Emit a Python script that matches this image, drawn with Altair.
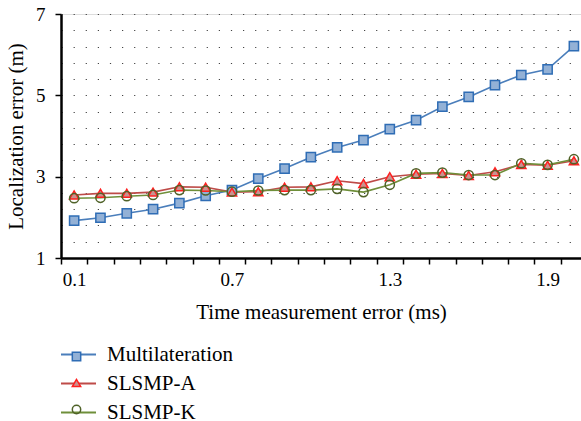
import altair as alt
import pandas as pd

x_values = [0.1, 0.2, 0.3, 0.4, 0.5, 0.6, 0.7, 0.8, 0.9, 1.0,
            1.1, 1.2, 1.3, 1.4, 1.5, 1.6, 1.7, 1.8, 1.9, 2.0]
multilateration = [1.92, 1.99, 2.10, 2.20, 2.35, 2.53, 2.67, 2.95, 3.20, 3.48,
                   3.72, 3.90, 4.17, 4.39, 4.72, 4.96, 5.25, 5.50, 5.64, 6.21]
slsmp_a = [2.55, 2.59, 2.59, 2.62, 2.75, 2.74, 2.62, 2.63, 2.74, 2.75,
           2.90, 2.83, 3.00, 3.06, 3.08, 3.03, 3.12, 3.30, 3.28, 3.39]
slsmp_k = [2.47, 2.48, 2.52, 2.55, 2.67, 2.66, 2.63, 2.66, 2.67, 2.67,
           2.70, 2.62, 2.80, 3.08, 3.10, 3.04, 3.04, 3.33, 3.29, 3.43]
series_names = ["Multilateration", "SLSMP-A", "SLSMP-K"]
x_tick_labels = [0.1, 0.7, 1.3, 1.9]
y_tick_labels = [1, 3, 5, 7]

rows = []
for name, vals in zip(series_names, [multilateration, slsmp_a, slsmp_k]):
    for xv, yv in zip(x_values, vals):
        rows.append({"x": xv, "y": yv, "series": name, "series2": name})
df = pd.DataFrame(rows)

FONT = "Liberation Serif"
x_scale = alt.Scale(domain=[0.05, 2.027], nice=False, zero=False)
y_scale = alt.Scale(domain=[1, 7], nice=False, zero=False)
x_boundaries = [round(0.05 + 0.1 * k, 2) for k in range(20)]
y_grid = [round(1.4 + 0.4 * k, 2) for k in range(15)]

base = alt.Chart(df)

pt_legend = dict(orient="none", legendX=5, legendY=332, title=None,
                 symbolSize=70, labelFont=FONT, labelFontSize=21,
                 labelColor="white", labelOpacity=0, labelOffset=10,
                 rowPadding=4.5, padding=0, symbolStrokeWidth=1.5)

lines = base.mark_line(strokeWidth=1.6).encode(
    x=alt.X("x:Q", scale=x_scale,
            axis=alt.Axis(orient="bottom", values=x_boundaries, labels=False, tickSize=6,
                          tickWidth=1.5, tickColor="black", domainColor="black",
                          domainWidth=2.5, grid=False, title=None)),
    y=alt.Y("y:Q", scale=y_scale,
            axis=alt.Axis(orient="left", values=y_tick_labels, tickSize=6, tickWidth=1.5,
                          tickColor="black", domainColor="black", domainWidth=2.5,
                          grid=False, labelFont=FONT, labelFontSize=19, labelColor="black",
                          labelPadding=10, title="Localization error (m)",
                          titleFont=FONT, titleFontSize=21, titleFontWeight="normal",
                          titleColor="black", titlePadding=9)),
    color=alt.Color("series:N",
                    scale=alt.Scale(range=["#4a7ebb", "#be4b48", "#6f8f3a"]),
                    legend=alt.Legend(orient="none", legendX=-1, legendY=322, title=None,
                                      symbolType="stroke", symbolSize=1225,
                                      symbolStrokeWidth=2, labelFont=FONT,
                                      labelFontSize=21, labelColor="black",
                                      labelOffset=10, rowPadding=-1.5, padding=0)),
    detail="series:N",
)

points = base.mark_point(filled=False, strokeWidth=1.5, opacity=1).encode(
    x=alt.X("x:Q", scale=x_scale,
            axis=alt.Axis(orient="bottom", values=x_tick_labels, format=".1f", ticks=False,
                          tickSize=0, domain=False, grid=False, labelFont=FONT,
                          labelFontSize=19, labelColor="black", labelPadding=12,
                          title="Time measurement error (ms)", titleFont=FONT,
                          titleFontSize=21, titleFontWeight="normal", titleColor="black",
                          titlePadding=12)),
    y=alt.Y("y:Q", scale=y_scale,
            axis=alt.Axis(orient="left", values=y_grid, labels=False, ticks=False,
                          domain=False, grid=True, gridColor="#444", gridWidth=1.2,
                          gridDash=[1.2, 10.9], title=None)),
    shape=alt.Shape("series2:N",
                    scale=alt.Scale(range=["square", "triangle-up", "circle"]),
                    legend=alt.Legend(**pt_legend)),
    fill=alt.Fill("series2:N",
                  scale=alt.Scale(range=["#93b1d6", "#c99390", "rgba(255,255,255,0)"]),
                  legend=alt.Legend(**pt_legend)),
    stroke=alt.Stroke("series2:N",
                      scale=alt.Scale(range=["#2f6db5", "#ff2020", "#4f6228"]),
                      legend=alt.Legend(**pt_legend)),
    size=alt.value(85),
)

chart = alt.layer(lines, points).resolve_axis(x="independent", y="independent").properties(
    width=520, height=244,
    autosize=alt.AutoSizeParams(type="none"),
    padding={"left": 61, "top": 14, "right": 0, "bottom": 163},
).configure_view(stroke=None).configure(background="white", font=FONT).configure_legend(
    labelFont=FONT
).configure_axis(labelFont=FONT, titleFont=FONT)

chart.save("out.html", embed_options={"renderer": "svg", "actions": False})
